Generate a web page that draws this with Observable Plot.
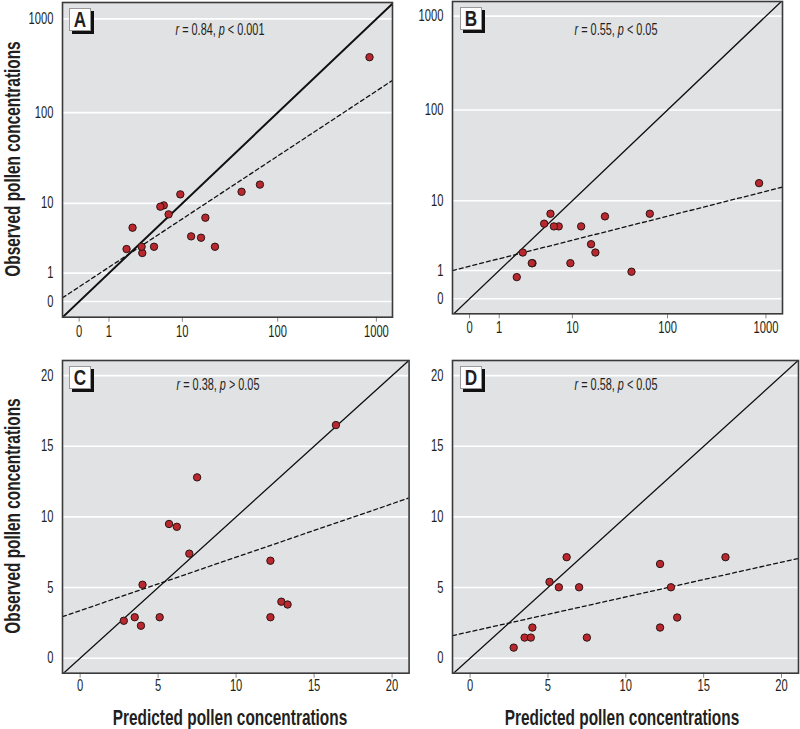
<!DOCTYPE html>
<html><head><meta charset="utf-8">
<script src="https://cdn.jsdelivr.net/npm/d3@7"></script>
<script src="https://cdn.jsdelivr.net/npm/@observablehq/plot@0.6"></script>
<style>
body{margin:0;background:#fff;}
#chart{position:relative;width:800px;height:729px;overflow:hidden;font-family:"Liberation Sans",Arial,sans-serif;color:#231f20;}
.panel{position:absolute;}
.stat{position:absolute;font-size:16px;transform:translate(-50%,-50%) scaleX(0.68);white-space:nowrap;}
.letter{position:absolute;box-sizing:border-box;width:22px;height:23px;background:#fff;border:1px solid #999;box-shadow:3px 3px 0 #111;font-weight:bold;font-size:22px;line-height:22px;text-align:center;}
.letter span{display:inline-block;transform:scaleX(0.78);}
.ylab{position:absolute;font-weight:bold;font-size:22px;transform:translate(-50%,-50%) rotate(-90deg) scaleX(0.7);white-space:nowrap;}
.xlab{position:absolute;font-weight:bold;font-size:22px;transform:translate(-50%,-50%) scaleX(0.7);white-space:nowrap;}
</style></head><body><div id="chart"></div>
<script>
// ---- data ----
const panelNames = ["A", "B", "C", "D"];
const topPredicted = [852, 65.8, 42.6, 22.5, 17.8, 16.0, 12.5, 9.5, 7.0, 6.15, 5.6, 4.7, 3.34, 3.27, 2.46, 2.01];
const observedA = [391, 16.4, 13.6, 2.81, 6.75, 3.75, 3.91, 12.7, 7.41, 9.47, 9.15, 2.81, 2.27, 2.81, 5.07, 2.6];
const observedB = [15.9, 7.0, 0.94, 6.5, 2.1, 2.8, 4.87, 1.39, 4.87, 4.87, 7.0, 5.27, 1.39, 1.39, 2.1, 0.70];
const bottomPredicted = [16.4, 7.5, 5.7, 6.2, 7.0, 12.2, 4.0, 12.9, 13.3, 2.8, 3.5, 5.1, 12.2, 3.9];
const observedC = [16.5, 12.8, 9.5, 9.3, 7.4, 6.9, 5.2, 4.0, 3.8, 2.65, 2.9, 2.9, 2.9, 2.3];
const observedD = [7.15, 1.46, 5.02, 7.15, 5.02, 6.67, 2.17, 5.02, 2.88, 0.75, 1.46, 5.4, 2.17, 1.46];
// fitted (dashed) lines: intercept and slope, in the plotted (axis) space
const fitIntercepts = [0.155, 0.346, 3.37, 1.876];
const fitSlopes = [0.693, 0.265, 0.378, 0.246];
const statR = ["0.84", "0.55", "0.38", "0.58"];
const statP = ["< 0.001", "< 0.05", "> 0.05", "< 0.05"];
const logTicks = [0, 1, 10, 100, 1000];
const linTicks = [0, 5, 10, 15, 20];
const yTitle = "Observed pollen concentrations";
const xTitle = "Predicted pollen concentrations";

// ---- layout ----
const FONT = '"Liberation Sans",Arial,sans-serif';
const panels = [
  {name: "A", log: true, pred: topPredicted, obs: observedA, left: 61.7, right: 391.7, top: 2, bottom: 316.7,
   xDomain: [-0.168, 3.163], yDomain: [-0.167, 3.174], idW: 2, statX: 220, statY: 30},
  {name: "B", log: true, pred: topPredicted, obs: observedB, left: 452.3, right: 782.3, top: 1, bottom: 313.3,
   xDomain: [-0.172, 3.168], yDomain: [-0.159, 3.156], idW: 1.3, statX: 616, statY: 30},
  {name: "C", log: false, pred: bottomPredicted, obs: observedC, left: 61.7, right: 408.3, top: 360, bottom: 672.7,
   xDomain: [-1.13, 21.09], yDomain: [-1.06, 21.07], idW: 1.3, statX: 218, statY: 385},
  {name: "D", log: false, pred: bottomPredicted, obs: observedD, left: 452.3, right: 798.3, top: 360, bottom: 672.7,
   xDomain: [-1.13, 21.09], yDomain: [-1.06, 21.07], idW: 1.3, statX: 616, statY: 385}
];

const chart = document.getElementById("chart");
const ML = 55, MR = 2, MT = 2, MB = 32;

panels.forEach((cfg, i) => {
  const f = cfg.log ? v => Math.log10(v + 1) : v => v;
  const ticks = cfg.log ? logTicks.map(f) : linTicks;
  const fmt = cfg.log ? v => String(Math.round(Math.pow(10, v) - 1)) : v => String(v);
  const data = cfg.pred.map((p, j) => ({x: f(p), y: f(cfg.obs[j])}));
  const lo = Math.min(cfg.xDomain[0], cfg.yDomain[0]), hi = Math.max(cfg.xDomain[1], cfg.yDomain[1]);
  const identity = [{x: lo, y: lo}, {x: hi, y: hi}];
  const a = fitIntercepts[i], b = fitSlopes[i];
  const fit = cfg.xDomain.map(x => ({x, y: a + b * x}));
  const w = cfg.right - cfg.left, h = cfg.bottom - cfg.top;
  const svg = Plot.plot({
    width: w + ML + MR, height: h + MT + MB,
    marginLeft: ML, marginRight: MR, marginTop: MT, marginBottom: MB,
    style: {fontFamily: FONT, fontSize: "16px", color: "#231f20", background: "transparent", overflow: "visible"},
    x: {domain: cfg.xDomain, label: null},
    y: {domain: cfg.yDomain, label: null},
    marks: [
      Plot.frame({fill: "#e1e2e4"}),
      Plot.gridY(ticks, {stroke: "#fff", strokeOpacity: 1, strokeWidth: 1.6}),
      Plot.line(identity, {x: "x", y: "y", stroke: "#111", strokeWidth: cfg.idW, clip: "frame"}),
      Plot.line(fit, {x: "x", y: "y", stroke: "#111", strokeWidth: 1.3, strokeDasharray: "4,3", clip: "frame"}),
      Plot.dot(data, {x: "x", y: "y", r: 3.7, fill: "#b8282e", stroke: "#2b1414", strokeWidth: 1}),
      Plot.axisX(ticks, {tickSize: 5, tickPadding: cfg.log ? 3 : 1, stroke: "#888", tickFormat: fmt, fontSize: 16}),
      Plot.axisY(ticks, {tickSize: 0, tickPadding: 9, tickFormat: fmt, fontSize: 16}),
      Plot.frame({stroke: "#3a3a3a", strokeWidth: 1.6})
    ]
  });
  // condense tick label glyphs horizontally around their anchor
  svg.querySelectorAll('g[aria-label$="tick label"] text').forEach(t => {
    t.setAttribute("transform", (t.getAttribute("transform") || "") + " scale(0.7,1)");
  });
  svg.classList.add("panel");
  svg.style.left = (cfg.left - ML) + "px";
  svg.style.top = (cfg.top - MT) + "px";
  chart.appendChild(svg);

  const letter = document.createElement("div");
  letter.className = "letter";
  letter.innerHTML = "<span>" + panelNames[i] + "</span>";
  letter.style.left = (cfg.left + 7.5) + "px";
  letter.style.top = (cfg.top + 6) + "px";
  chart.appendChild(letter);

  const stat = document.createElement("div");
  stat.className = "stat";
  stat.innerHTML = "<i>r</i> = " + statR[i] + ", <i>p</i> " + statP[i];
  stat.style.left = cfg.statX + "px";
  stat.style.top = cfg.statY + "px";
  chart.appendChild(stat);
});

[[13, 159], [13, 516]].forEach(([x, y]) => {
  const d = document.createElement("div");
  d.className = "ylab"; d.textContent = yTitle;
  d.style.left = x + "px"; d.style.top = y + "px";
  chart.appendChild(d);
});
[[230, 718], [622, 718]].forEach(([x, y]) => {
  const d = document.createElement("div");
  d.className = "xlab"; d.textContent = xTitle;
  d.style.left = x + "px"; d.style.top = y + "px";
  chart.appendChild(d);
});
</script></body></html>
